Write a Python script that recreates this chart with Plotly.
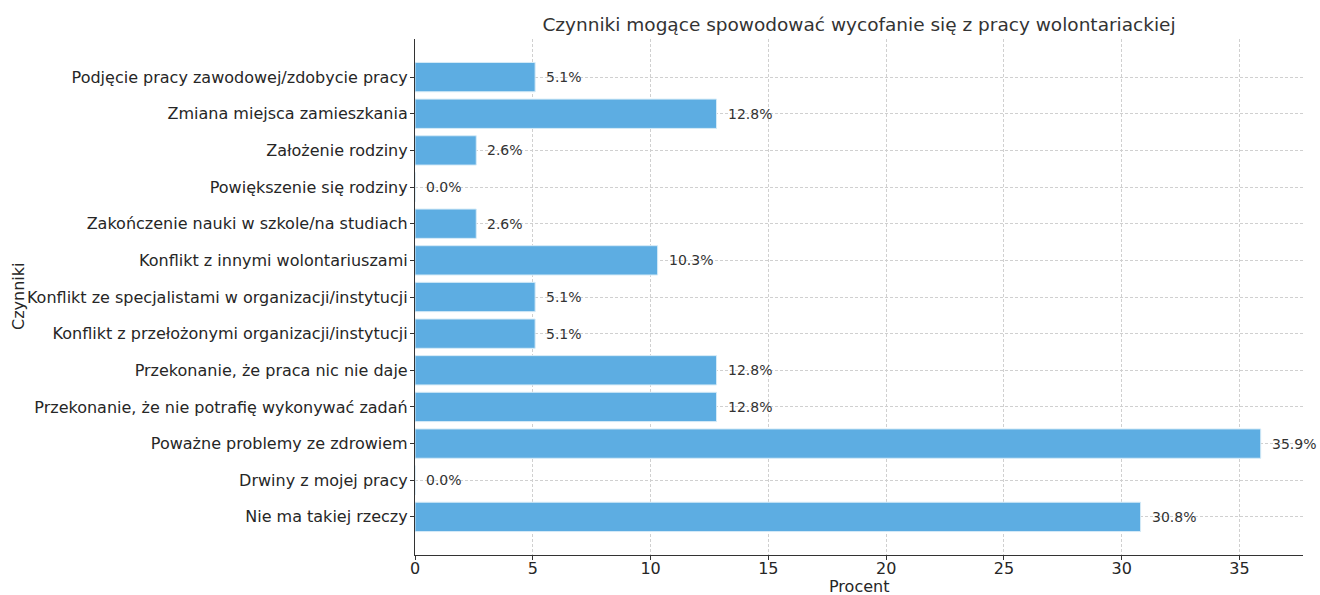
import plotly.graph_objects as go

categories = [
    "Podjęcie pracy zawodowej/zdobycie pracy",
    "Zmiana miejsca zamieszkania",
    "Założenie rodziny",
    "Powiększenie się rodziny",
    "Zakończenie nauki w szkole/na studiach",
    "Konflikt z innymi wolontariuszami",
    "Konflikt ze specjalistami w organizacji/instytucji",
    "Konflikt z przełożonymi organizacji/instytucji",
    "Przekonanie, że praca nic nie daje",
    "Przekonanie, że nie potrafię wykonywać zadań",
    "Poważne problemy ze zdrowiem",
    "Drwiny z mojej pracy",
    "Nie ma takiej rzeczy",
]
values = [5.1, 12.8, 2.6, 0.0, 2.6, 10.3, 5.1, 5.1, 12.8, 12.8, 35.9, 0.0, 30.8]
x_ticks = [0, 5, 10, 15, 20, 25, 30, 35]

FONT = "DejaVu Sans"
L, R, T, B = 415, 17, 39, 40
W, H = 1320, 595
PW, PH = W - L - R, H - T - B

fig = go.Figure()
fig.add_trace(go.Bar(
    x=values, y=categories, orientation="h", width=0.8,
    marker=dict(color="#5DADE2", line=dict(color="#d6ebf7", width=1)),
    hoverinfo="x+y",
))
for c, v in zip(categories, values):
    fig.add_annotation(x=v, y=c, text=f"{v:.1f}%", showarrow=False,
                       xanchor="left", yanchor="middle", xshift=9,
                       font=dict(family=FONT, size=14, color="#333333"))

# axis titles
fig.add_annotation(text="Procent", xref="paper", yref="paper", x=0.5, y=-(586 - (H - B)) / PH,
                   xanchor="center", yanchor="middle", showarrow=False,
                   font=dict(family=FONT, size=16, color="#262626"))
fig.add_annotation(text="Czynniki", xref="paper", yref="paper", x=-(L - 18) / PW, y=0.5,
                   xanchor="center", yanchor="middle", showarrow=False, textangle=-90,
                   font=dict(family=FONT, size=16, color="#262626"))

xmax = max(values) * 1.05
fig.update_layout(
    width=W, height=H,
    margin=dict(l=L, r=R, t=T, b=B, autoexpand=False),
    paper_bgcolor="white", plot_bgcolor="white",
    font=dict(family=FONT, size=16, color="#262626"),
    title=dict(text="Czynniki mogące spowodować wycofanie się z pracy wolontariackiej",
               x=(L + W - R) / 2 / W, xanchor="center", y=1 - 25 / H, yanchor="middle",
               font=dict(family=FONT, size=18.5, color="#333333")),
    showlegend=False, bargap=0.2,
)
fig.update_xaxes(
    range=[0, xmax], tickvals=x_ticks, ticks="outside", ticklen=4, tickcolor="#333",
    ticklabelstandoff=-5,
    showline=True, linecolor="#333", linewidth=1.2, automargin=False,
    showgrid=True, gridcolor="#d0d0d0", griddash="3px,2px", gridwidth=0.8,
    zeroline=False, tickfont=dict(size=16, color="#262626"),
)
fig.update_yaxes(
    range=[len(categories) - 1 + 1.04, -1.04], ticks="outside", ticklen=4, tickcolor="#333",
    ticklabelstandoff=-1,
    showline=True, linecolor="#333", linewidth=1.2, automargin=False,
    showgrid=True, gridcolor="#d0d0d0", griddash="3px,2px", gridwidth=0.8,
    tickfont=dict(size=16, color="#262626"),
)
fig.write_html("out.html", config={"displayModeBar": False},
               post_script="document.body.style.margin='0';")
